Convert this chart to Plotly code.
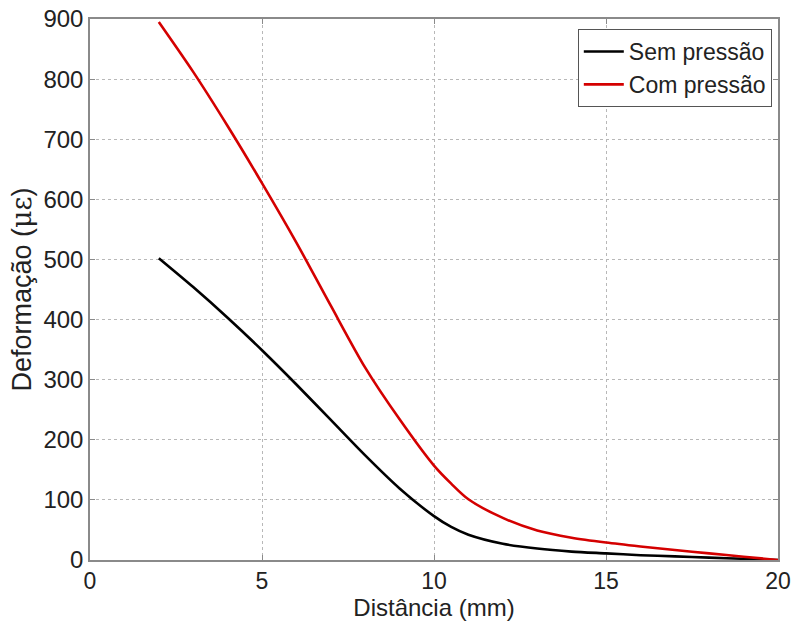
import plotly.graph_objects as go

# Data
x_sem = [2, 3, 4, 5, 6, 7, 8, 9, 10, 10.5, 11, 12, 13, 14, 15, 16, 17, 18, 19, 20]
y_sem = [502, 454, 403, 349, 292, 233, 174, 119, 73, 55, 42, 27, 19, 14, 11, 8, 6, 4, 2, 0]

x_com = [2, 3, 4, 5, 6, 7, 8, 9, 10, 10.5, 11, 12, 13, 14, 15, 16, 17, 18, 19, 20]
y_com = [895, 812, 722, 627, 528, 423, 320, 234, 157, 127, 101, 70, 49, 37, 29, 22.5, 16.5, 11, 5.5, 0]

x_ticks = [0, 5, 10, 15, 20]
y_ticks = [0, 100, 200, 300, 400, 500, 600, 700, 800, 900]

FONT = "Liberation Sans, Arial, sans-serif"

fig = go.Figure()
fig.add_trace(go.Scatter(x=x_sem, y=y_sem, mode="lines", name="Sem pressão",
                         line=dict(color="black", width=2.6, shape="spline", smoothing=0.8)))
fig.add_trace(go.Scatter(x=x_com, y=y_com, mode="lines", name="Com pressão",
                         line=dict(color="#d40000", width=2.6, shape="spline", smoothing=0.8)))

axis_common = dict(
    showgrid=True, gridcolor="#b8b8b8", griddash="dot", gridwidth=1,
    showline=True, linecolor="#8a8a8a", linewidth=1.5, mirror="ticks",
    ticks="inside", ticklen=5, tickcolor="#8a8a8a",
    zeroline=False, automargin=False,
)

fig.update_xaxes(range=[0, 20], tickvals=x_ticks, **axis_common,
                 tickfont=dict(family=FONT, size=23, color="#222"),
                 title=dict(text="Distância (mm)", font=dict(family=FONT, size=24, color="#222"), standoff=2))
fig.update_yaxes(range=[0, 900], tickvals=y_ticks, **axis_common,
                 tickfont=dict(family=FONT, size=24, color="#222"),
                 title=dict(text="Deformação (<span style='font-family:DejaVu Serif'>με</span>)",
                            font=dict(family=FONT, size=27, color="#222"), standoff=4))

fig.update_layout(
    width=795, height=624,
    margin=dict(l=90, r=17, t=19, b=64),
    paper_bgcolor="white", plot_bgcolor="white",
    showlegend=True,
    legend=dict(x=0.991, y=0.9815, xanchor="right", yanchor="top",
                bgcolor="white", bordercolor="#555", borderwidth=1,
                font=dict(family=FONT, size=23, color="#222"),
                tracegroupgap=0, itemwidth=40),
)

fig.write_html("out.html")
